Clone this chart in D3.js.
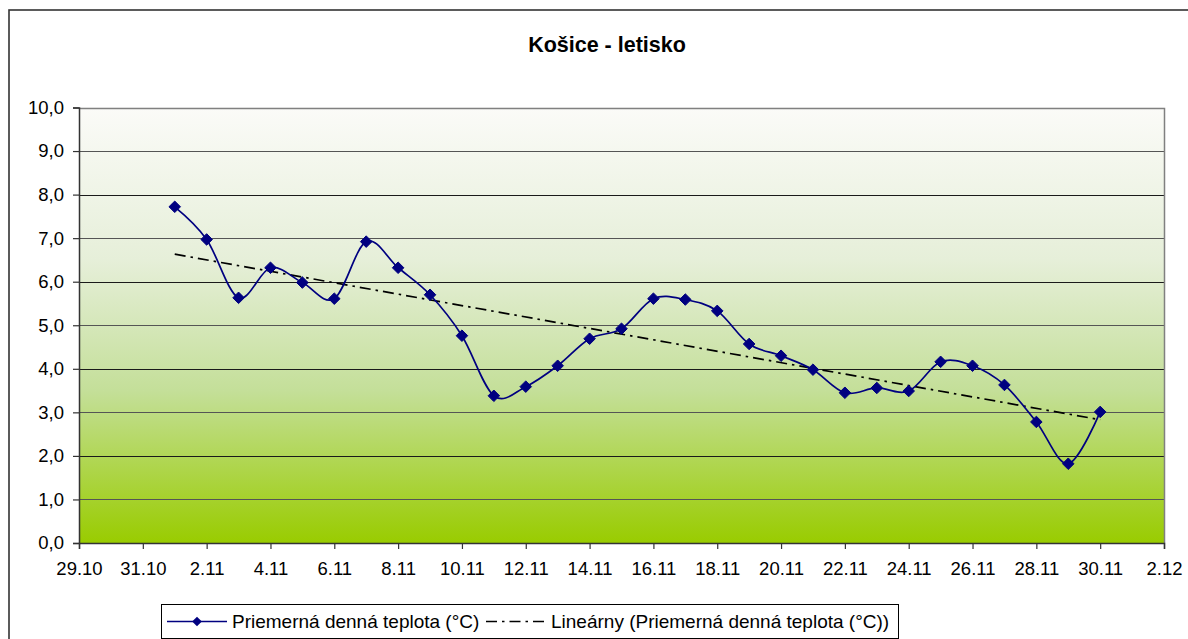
<!DOCTYPE html>
<html><head><meta charset="utf-8">
<script src="https://cdn.jsdelivr.net/npm/d3@7"></script>
<style>body{margin:0;background:#fff;}svg{display:block;font-family:"Liberation Sans",Arial,sans-serif;}</style>
</head><body><svg id="c" width="1188" height="639"></svg>
<script>
const title = "Košice - letisko";
const seriesName = "Priemerná denná teplota (°C)";
const trendName = "Lineárny (Priemerná denná teplota (°C))";
const dayOffsets = [3,4,5,6,7,8,9,10,11,12,13,14,15,16,17,18,19,20,21,22,23,24,25,26,27,28,29,30,31,32];
const temps = [7.72,6.97,5.63,6.32,5.98,5.61,6.92,6.32,5.70,4.76,3.38,3.59,4.07,4.69,4.92,5.61,5.59,5.33,4.57,4.30,3.98,3.45,3.56,3.49,4.16,4.07,3.63,2.78,1.82,3.01];
const xTickOffsets = [0,2,4,6,8,10,12,14,16,18,20,22,24,26,28,30,32,34];
const xTickLabels = ["29.10","31.10","2.11","4.11","6.11","8.11","10.11","12.11","14.11","16.11","18.11","20.11","22.11","24.11","26.11","28.11","30.11","2.12"];
const yTicks = [0,1,2,3,4,5,6,7,8,9,10];

const svg = d3.select("#c");
const L = 79, R = 1164, T = 107.5, B = 543;
const x = d3.scaleLinear().domain([0,34]).range([L,R]);
const y = d3.scaleLinear().domain([0,10]).range([B,T]);

// outer border
svg.append("rect").attr("x",9).attr("y",10).attr("width",1200).attr("height",700)
  .attr("fill","#fff").attr("stroke","#333").attr("stroke-width",1.6);

// gradient
const defs = svg.append("defs");
const g = defs.append("linearGradient").attr("id","bg").attr("x1",0).attr("y1",0).attr("x2",0).attr("y2",1);
g.append("stop").attr("offset","0%").attr("stop-color","#fbfbf8");
g.append("stop").attr("offset","35%").attr("stop-color","#e6efd9");
g.append("stop").attr("offset","65%").attr("stop-color","#c4df99");
g.append("stop").attr("offset","100%").attr("stop-color","#99cc00");
svg.append("rect").attr("x",L).attr("y",T).attr("width",R-L).attr("height",B-T).attr("fill","url(#bg)");

// gridlines
svg.append("g").selectAll("line").data(yTicks.filter(d=>d>0)).join("line")
  .attr("x1",L).attr("x2",R).attr("y1",d=>Math.round(y(d))+0.5).attr("y2",d=>Math.round(y(d))+0.5)
  .attr("stroke",(d,i)=>i%2? "#1a1a1a":"#555").attr("stroke-width",1.2);
// plot border top/right
svg.append("path").attr("d",`M${L},${Math.round(T)+0.5}H${R+0.5}V${B}`).attr("fill","none").attr("stroke","#808080").attr("stroke-width",1.5);

// y axis
const ya = d3.axisLeft(y).tickValues(yTicks).tickFormat(d=>d3.format(".1f")(d).replace(".",",")).tickSizeOuter(0).tickSize(6).tickPadding(9);
const yg = svg.append("g").attr("transform",`translate(${L},0)`).call(ya);
// x axis
const xa = d3.axisBottom(x).tickValues(xTickOffsets).tickFormat((d,i)=>xTickLabels[i]).tickSizeOuter(0).tickSize(6).tickPadding(10);
const xg = svg.append("g").attr("transform",`translate(0,${B})`).call(xa);
[yg,xg].forEach(a=>{
  a.select(".domain").attr("stroke","#333").attr("stroke-width",1.5);
  a.selectAll(".tick line").attr("stroke","#333").attr("stroke-width",1.2);
  a.selectAll("text").attr("font-size",18.5).attr("fill","#000").attr("font-family","Liberation Sans, Arial, sans-serif");
});
xg.selectAll("text").attr("dy","0.85em");

// trend line (least squares fit)
const n = dayOffsets.length;
const mx = d3.mean(dayOffsets), my = d3.mean(temps);
const slope = d3.sum(dayOffsets.map((d,i)=>(d-mx)*(temps[i]-my))) / d3.sum(dayOffsets.map(d=>(d-mx)*(d-mx)));
const icpt = my - slope*mx;
const x0 = dayOffsets[0], x1 = dayOffsets[n-1];
svg.append("line").attr("x1",x(x0)).attr("x2",x(x1)).attr("y1",y(icpt+slope*x0)).attr("y2",y(icpt+slope*x1))
  .attr("stroke","#000").attr("stroke-width",1.7).attr("stroke-dasharray","11,5,2.5,5");

// series
const pts = dayOffsets.map((d,i)=>[d,temps[i]]);
svg.append("path").datum(pts).attr("fill","none").attr("stroke","#000080").attr("stroke-width",1.7)
  .attr("d",d3.line().x(d=>x(d[0])).y(d=>y(d[1])).curve(d3.curveCardinal.tension(0)));
const diamond = d3.symbol().type(d3.symbolDiamond2 || d3.symbolSquare).size(85);
svg.append("g").selectAll("path").data(pts).join("path")
  .attr("transform",d=>`translate(${x(d[0])},${y(d[1])}) rotate(${d3.symbolDiamond2?0:45})`)
  .attr("d",diamond).attr("fill","#000080").attr("stroke","#000080").attr("stroke-width",1);

// title
svg.append("text").attr("x",607).attr("y",52).attr("text-anchor","middle").attr("font-size",21.5).attr("font-weight","bold").text(title);

// legend
const lg = svg.append("g");
lg.append("rect").attr("x",161.5).attr("y",604.5).attr("width",737).attr("height",34).attr("fill","#fff").attr("stroke","#000").attr("stroke-width",1);
lg.append("line").attr("x1",167).attr("x2",227).attr("y1",621.5).attr("y2",621.5).attr("stroke","#000080").attr("stroke-width",1.7);
lg.append("path").attr("transform","translate(197,621.5)").attr("d",d3.symbol().type(d3.symbolDiamond2||d3.symbolSquare).size(60)).attr("fill","#000080");
lg.append("text").attr("x",232).attr("y",628).attr("font-size",19).text(seriesName);
lg.append("line").attr("x1",486).attr("x2",547).attr("y1",621.5).attr("y2",621.5).attr("stroke","#000").attr("stroke-width",1.7).attr("stroke-dasharray","11,5,2.5,5");
lg.append("text").attr("x",551).attr("y",628).attr("font-size",19).text(trendName);
</script></body></html>
